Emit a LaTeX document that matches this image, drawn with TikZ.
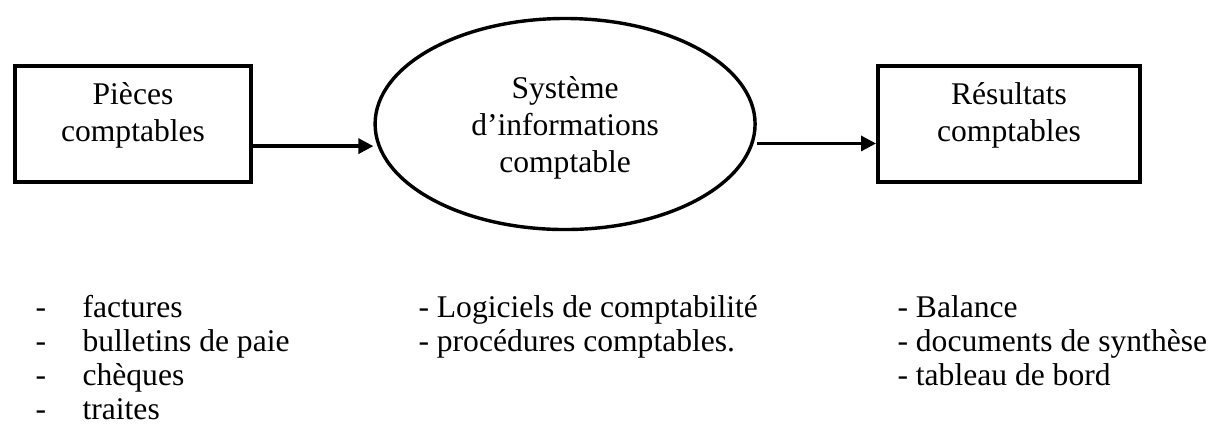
\documentclass[tikz,border=0pt]{standalone}
\usepackage{fontspec}
\setmainfont{Liberation Serif}
\usetikzlibrary{shapes.geometric, positioning, arrows.meta}
\tikzset{
	>={Triangle[length=5.7pt, width=5.7pt]}, % filled triangle heads
	every node/.style={font=\fontsize{12pt}{14.1pt}\selectfont}, % same text size everywhere
	box/.style={draw, rectangle, line width=1.5pt, inner sep=0pt, minimum width=89.7pt, minimum height=44.1pt, align=center, text height=22.2pt, text depth=8.55pt}, % the two boxes
	sysnode/.style={draw, ellipse, line width=1.3pt, inner sep=0pt, minimum width=144.4pt, minimum height=80.2pt, align=center, text height=36.7pt, text depth=-6.7pt}, % the middle ellipse
	flow/.style={->, line width=1.25pt}, % arrows between the blocks
	item/.style={anchor=base west, inner sep=0pt}, % list lines
}
\begin{document}
\begin{tikzpicture}[x=0.38pt, y=-0.38pt, on grid]
		\useasboundingbox (0,0) rectangle (1225,427);
		% Define blocks
		\node[box] (pieces) at (133,124) {Pièces\\comptables};
		\node[sysnode, right=164.2pt of pieces] (sia) {Système\\d’informations\\comptable};
		\node[box, minimum width=99.6pt, right=168.7pt of sia] (result) {Résultats\\comptables};
		
		% Arrows
		\coordinate (p1) at ([yshift=-8.4pt]pieces.east);
		\coordinate (s1) at ([yshift=-7.4pt]sia.east);
		\path[flow]
		(p1) edge (p1 -| sia.west)
		(s1) edge (s1 -| result.west);
		
		% Lists
		\foreach \txt [count=\i] in {factures, bulletins de paie, chèques, traites}
			\node[item] (doc\i) at (35, 283+34*\i) {\makebox[17.9pt][l]{-}\txt};
		\foreach \txt [count=\i] in {Logiciels de comptabilité, procédures comptables.}
			\node[item] (tool\i) at (418, 283+34*\i) {- \txt};
		\foreach \txt [count=\i] in {Balance, documents de synthèse, tableau de bord}
			\node[item] (out\i) at (897, 283+34*\i) {- \txt};
	\end{tikzpicture}
\end{document}
